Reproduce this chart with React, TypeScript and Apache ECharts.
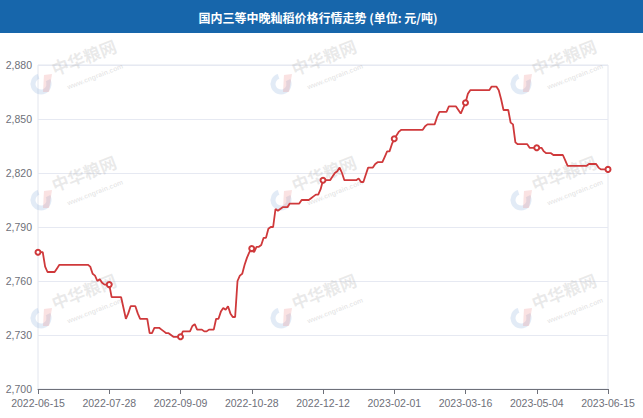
import { useEffect, useRef } from 'react';
import * as echarts from 'echarts';

const titleText = '国内三等中晚籼稻价格行情走势 (单位: 元/吨)';

const labelDates = [
  '2022-06-15', '2022-07-28', '2022-09-09', '2022-10-28', '2022-12-12',
  '2023-02-01', '2023-03-16', '2023-05-04', '2023-06-15',
];
const pointsPerLabel = 30;

const priceValues = [
  2776, 2776, 2776, 2768, 2765, 2765, 2765, 2765, 2767, 2769,
  2769, 2769, 2769, 2769, 2769, 2769, 2769, 2769, 2769, 2769,
  2769, 2769, 2768, 2764, 2763, 2760, 2761, 2759, 2758, 2758,
  2758, 2751, 2751, 2751, 2751, 2751, 2745, 2739, 2742, 2746,
  2746, 2746, 2742, 2739, 2739, 2739, 2739, 2731, 2731, 2734,
  2734, 2734, 2733, 2732, 2731, 2731, 2730, 2729, 2729, 2729,
  2729, 2732, 2732, 2732, 2732, 2735, 2736, 2733, 2733, 2733,
  2732, 2732, 2733, 2733, 2733, 2739, 2739, 2743, 2745, 2744,
  2746, 2742, 2740, 2740, 2760, 2763, 2764, 2769, 2773, 2776,
  2778, 2776, 2779, 2779, 2780, 2784, 2784, 2789, 2790, 2790,
  2800, 2799, 2800, 2801, 2801, 2801, 2803, 2803, 2803, 2803,
  2803, 2805, 2805, 2805, 2805, 2806, 2807, 2808, 2808, 2811,
  2816, 2816, 2816, 2816, 2818, 2820, 2821, 2823, 2820, 2816,
  2816, 2816, 2816, 2816, 2816, 2817, 2815, 2815, 2819, 2823,
  2823, 2823, 2825, 2826, 2826, 2826, 2829, 2832, 2832, 2836,
  2839, 2841, 2843, 2844, 2844, 2844, 2844, 2844, 2844, 2844,
  2844, 2844, 2844, 2846, 2847, 2847, 2847, 2847, 2851, 2854,
  2854, 2854, 2854, 2857, 2857, 2857, 2857, 2855, 2853, 2856,
  2859, 2864, 2866, 2866, 2866, 2866, 2866, 2866, 2866, 2866,
  2866, 2868, 2868, 2868, 2866, 2861, 2855, 2855, 2855, 2848,
  2847, 2837, 2836, 2836, 2836, 2836, 2836, 2834, 2834, 2834,
  2834, 2834, 2834, 2832, 2831, 2831, 2831, 2830, 2830, 2830,
  2830, 2830, 2827, 2824, 2824, 2824, 2824, 2824, 2824, 2824,
  2824, 2824, 2825, 2825, 2825, 2825, 2823, 2822, 2822, 2822,
  2822,
];

const yMin = 2700;
const yMax = 2880;
const yInterval = 30;

function fmtDate(d: Date): string {
  const m = String(d.getUTCMonth() + 1).padStart(2, '0');
  const day = String(d.getUTCDate()).padStart(2, '0');
  return `${d.getUTCFullYear()}-${m}-${day}`;
}

function buildCategories(): string[] {
  const out: string[] = [];
  for (let k = 0; k < labelDates.length - 1; k++) {
    const a = Date.parse(labelDates[k] + 'T00:00:00Z');
    const b = Date.parse(labelDates[k + 1] + 'T00:00:00Z');
    const days = Math.round((b - a) / 86400000);
    for (let j = 0; j < pointsPerLabel; j++) {
      const off = Math.round((j * days) / pointsPerLabel);
      out.push(fmtDate(new Date(a + off * 86400000)));
    }
  }
  out.push(labelDates[labelDates.length - 1]);
  return out;
}

const wmXs = [41, 281, 521];
const wmYs = [84, 200, 318];
const wmAngle = 0.37 + 2 * Math.PI;

function watermark(lx: number, ly: number): any[] {
  return [
    {
      type: 'arc',
      silent: true,
      z: 1,
      shape: { cx: lx, cy: ly, r: 8, startAngle: -0.5, endAngle: 4.4 },
      style: { stroke: 'rgba(160,190,225,0.30)', lineWidth: 5, fill: 'none' },
    },
    {
      type: 'polygon',
      silent: true,
      z: 1,
      shape: { points: [[lx + 3, ly - 9], [lx + 11, ly - 10], [lx + 8, ly + 8], [lx + 2, ly + 8]] },
      style: { fill: 'rgba(235,140,140,0.25)' },
    },
    {
      type: 'text',
      silent: true,
      z: 1,
      x: lx + 14,
      y: ly - 7,
      rotation: wmAngle,
      style: {
        text: '中华粮网',
        font: 'bold 17px "Noto Sans CJK SC"',
        fill: 'rgba(170,170,170,0.25)',
        verticalAlign: 'bottom',
        letterSpacing: 3,
      },
    },
    {
      type: 'text',
      silent: true,
      z: 1,
      x: lx + 25,
      y: ly,
      rotation: wmAngle,
      style: {
        text: 'www.cngrain.com',
        font: 'bold 7px sans-serif',
        fill: 'rgba(170,170,170,0.28)',
        verticalAlign: 'top',
        letterSpacing: 1.3,
      },
    },
  ];
}

export default function App() {
  const ref = useRef<HTMLDivElement>(null);

  useEffect(() => {
    document.body.style.margin = '0';
    if (!ref.current) return;
    const chart = echarts.init(ref.current, null, { renderer: 'svg' });
    const categories = buildCategories();

    const wms: any[] = [];
    wmYs.forEach((y) => wmXs.forEach((x) => wms.push(...watermark(x, y))));

    chart.setOption({
      animation: false,
      backgroundColor: '#ffffff',
      textStyle: { fontFamily: '"Liberation Sans", Arial, sans-serif' },
      graphic: {
        elements: [
          {
            type: 'rect',
            x: 0,
            y: 0,
            shape: { width: 643, height: 33 },
            style: { fill: '#1766ab' },
            z: 0,
          },
          {
            type: 'text',
            x: 318,
            y: 17,
            style: {
              text: titleText,
              font: 'bold 12px "Noto Sans CJK SC"',
              fill: '#ffffff',
              align: 'center',
              verticalAlign: 'middle',
            },
            z: 1,
          },
          ...wms,
        ],
      },
      grid: {
        left: 38,
        right: 35,
        top: 65,
        bottom: 29,
        show: true,
        borderColor: '#e3e6ee',
        borderWidth: 1,
      },
      xAxis: {
        type: 'category',
        data: categories,
        boundaryGap: false,
        axisLine: { lineStyle: { color: '#6E7079' } },
        axisTick: { show: true, length: 5, interval: pointsPerLabel - 1 },
        axisLabel: {
          interval: pointsPerLabel - 1,
          color: '#6E7079',
          fontSize: 10.5,
          margin: 8,
          showMaxLabel: true,
        },
        splitLine: { show: false },
      },
      yAxis: {
        type: 'value',
        min: yMin,
        max: yMax,
        interval: yInterval,
        axisLine: { show: false },
        axisTick: { show: false },
        axisLabel: {
          color: '#6E7079',
          fontSize: 10.5,
          margin: 6,
          formatter: (v: number) => v.toLocaleString('en-US'),
        },
        splitLine: { lineStyle: { color: '#E6E9F2' } },
      },
      series: [
        {
          type: 'line',
          data: priceValues,
          symbol: 'emptyCircle',
          symbolSize: 5,
          showSymbol: true,
          showAllSymbol: false,
          z: 3,
          lineStyle: { color: '#cf393b', width: 1.8 },
          itemStyle: { color: '#cf393b', borderWidth: 1.3 },
        },
      ],
    });

    return () => chart.dispose();
  }, []);

  return <div ref={ref} style={{ width: 643, height: 418 }} />;
}
